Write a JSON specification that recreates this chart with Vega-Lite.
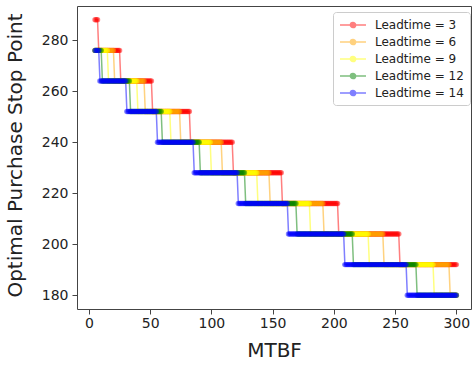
{
"$schema":"https://vega.github.io/schema/vega-lite/v6.json",
"width":394,"height":303,
"autosize":{"type":"none"},
"padding":{"left":77,"top":6,"right":3,"bottom":56},
"background":"white",
"config":{"view":{"stroke":"#444","strokeWidth":1},"font":"DejaVu Sans"},
"data":{"values":[
{"x":5,"a":288,"b":276,"c":276,"d":276,"e":276},
{"x":6,"a":288,"b":276,"c":276,"d":276,"e":276},
{"x":7,"a":288,"b":276,"c":276,"d":276,"e":276},
{"x":8,"a":276,"b":276,"c":276,"d":276,"e":276},
{"x":9,"a":276,"b":276,"c":276,"d":276,"e":264},
{"x":10,"a":276,"b":276,"c":276,"d":276,"e":264},
{"x":11,"a":276,"b":276,"c":276,"d":264,"e":264},
{"x":12,"a":276,"b":276,"c":276,"d":264,"e":264},
{"x":13,"a":276,"b":276,"c":276,"d":264,"e":264},
{"x":14,"a":276,"b":276,"c":276,"d":264,"e":264},
{"x":15,"a":276,"b":276,"c":276,"d":264,"e":264},
{"x":16,"a":276,"b":276,"c":264,"d":264,"e":264},
{"x":17,"a":276,"b":276,"c":264,"d":264,"e":264},
{"x":18,"a":276,"b":276,"c":264,"d":264,"e":264},
{"x":19,"a":276,"b":276,"c":264,"d":264,"e":264},
{"x":20,"a":276,"b":276,"c":264,"d":264,"e":264},
{"x":21,"a":276,"b":264,"c":264,"d":264,"e":264},
{"x":22,"a":276,"b":264,"c":264,"d":264,"e":264},
{"x":23,"a":276,"b":264,"c":264,"d":264,"e":264},
{"x":24,"a":276,"b":264,"c":264,"d":264,"e":264},
{"x":25,"a":276,"b":264,"c":264,"d":264,"e":264},
{"x":26,"a":264,"b":264,"c":264,"d":264,"e":264},
{"x":27,"a":264,"b":264,"c":264,"d":264,"e":264},
{"x":28,"a":264,"b":264,"c":264,"d":264,"e":264},
{"x":29,"a":264,"b":264,"c":264,"d":264,"e":264},
{"x":30,"a":264,"b":264,"c":264,"d":264,"e":264},
{"x":31,"a":264,"b":264,"c":264,"d":264,"e":252},
{"x":32,"a":264,"b":264,"c":264,"d":264,"e":252},
{"x":33,"a":264,"b":264,"c":264,"d":264,"e":252},
{"x":34,"a":264,"b":264,"c":264,"d":252,"e":252},
{"x":35,"a":264,"b":264,"c":264,"d":252,"e":252},
{"x":36,"a":264,"b":264,"c":264,"d":252,"e":252},
{"x":37,"a":264,"b":264,"c":264,"d":252,"e":252},
{"x":38,"a":264,"b":264,"c":264,"d":252,"e":252},
{"x":39,"a":264,"b":264,"c":264,"d":252,"e":252},
{"x":40,"a":264,"b":264,"c":252,"d":252,"e":252},
{"x":41,"a":264,"b":264,"c":252,"d":252,"e":252},
{"x":42,"a":264,"b":264,"c":252,"d":252,"e":252},
{"x":43,"a":264,"b":264,"c":252,"d":252,"e":252},
{"x":44,"a":264,"b":264,"c":252,"d":252,"e":252},
{"x":45,"a":264,"b":264,"c":252,"d":252,"e":252},
{"x":46,"a":264,"b":252,"c":252,"d":252,"e":252},
{"x":47,"a":264,"b":252,"c":252,"d":252,"e":252},
{"x":48,"a":264,"b":252,"c":252,"d":252,"e":252},
{"x":49,"a":264,"b":252,"c":252,"d":252,"e":252},
{"x":50,"a":264,"b":252,"c":252,"d":252,"e":252},
{"x":51,"a":264,"b":252,"c":252,"d":252,"e":252},
{"x":52,"a":252,"b":252,"c":252,"d":252,"e":252},
{"x":53,"a":252,"b":252,"c":252,"d":252,"e":252},
{"x":54,"a":252,"b":252,"c":252,"d":252,"e":252},
{"x":55,"a":252,"b":252,"c":252,"d":252,"e":252},
{"x":56,"a":252,"b":252,"c":252,"d":252,"e":240},
{"x":57,"a":252,"b":252,"c":252,"d":252,"e":240},
{"x":58,"a":252,"b":252,"c":252,"d":252,"e":240},
{"x":59,"a":252,"b":252,"c":252,"d":252,"e":240},
{"x":60,"a":252,"b":252,"c":252,"d":240,"e":240},
{"x":61,"a":252,"b":252,"c":252,"d":240,"e":240},
{"x":62,"a":252,"b":252,"c":252,"d":240,"e":240},
{"x":63,"a":252,"b":252,"c":252,"d":240,"e":240},
{"x":64,"a":252,"b":252,"c":252,"d":240,"e":240},
{"x":65,"a":252,"b":252,"c":252,"d":240,"e":240},
{"x":66,"a":252,"b":252,"c":252,"d":240,"e":240},
{"x":67,"a":252,"b":252,"c":240,"d":240,"e":240},
{"x":68,"a":252,"b":252,"c":240,"d":240,"e":240},
{"x":69,"a":252,"b":252,"c":240,"d":240,"e":240},
{"x":70,"a":252,"b":252,"c":240,"d":240,"e":240},
{"x":71,"a":252,"b":252,"c":240,"d":240,"e":240},
{"x":72,"a":252,"b":252,"c":240,"d":240,"e":240},
{"x":73,"a":252,"b":252,"c":240,"d":240,"e":240},
{"x":74,"a":252,"b":252,"c":240,"d":240,"e":240},
{"x":75,"a":252,"b":240,"c":240,"d":240,"e":240},
{"x":76,"a":252,"b":240,"c":240,"d":240,"e":240},
{"x":77,"a":252,"b":240,"c":240,"d":240,"e":240},
{"x":78,"a":252,"b":240,"c":240,"d":240,"e":240},
{"x":79,"a":252,"b":240,"c":240,"d":240,"e":240},
{"x":80,"a":252,"b":240,"c":240,"d":240,"e":240},
{"x":81,"a":252,"b":240,"c":240,"d":240,"e":240},
{"x":82,"a":252,"b":240,"c":240,"d":240,"e":240},
{"x":83,"a":240,"b":240,"c":240,"d":240,"e":240},
{"x":84,"a":240,"b":240,"c":240,"d":240,"e":240},
{"x":85,"a":240,"b":240,"c":240,"d":240,"e":240},
{"x":86,"a":240,"b":240,"c":240,"d":240,"e":228},
{"x":87,"a":240,"b":240,"c":240,"d":240,"e":228},
{"x":88,"a":240,"b":240,"c":240,"d":240,"e":228},
{"x":89,"a":240,"b":240,"c":240,"d":240,"e":228},
{"x":90,"a":240,"b":240,"c":240,"d":240,"e":228},
{"x":91,"a":240,"b":240,"c":240,"d":228,"e":228},
{"x":92,"a":240,"b":240,"c":240,"d":228,"e":228},
{"x":93,"a":240,"b":240,"c":240,"d":228,"e":228},
{"x":94,"a":240,"b":240,"c":240,"d":228,"e":228},
{"x":95,"a":240,"b":240,"c":240,"d":228,"e":228},
{"x":96,"a":240,"b":240,"c":240,"d":228,"e":228},
{"x":97,"a":240,"b":240,"c":240,"d":228,"e":228},
{"x":98,"a":240,"b":240,"c":240,"d":228,"e":228},
{"x":99,"a":240,"b":240,"c":240,"d":228,"e":228},
{"x":100,"a":240,"b":240,"c":228,"d":228,"e":228},
{"x":101,"a":240,"b":240,"c":228,"d":228,"e":228},
{"x":102,"a":240,"b":240,"c":228,"d":228,"e":228},
{"x":103,"a":240,"b":240,"c":228,"d":228,"e":228},
{"x":104,"a":240,"b":240,"c":228,"d":228,"e":228},
{"x":105,"a":240,"b":240,"c":228,"d":228,"e":228},
{"x":106,"a":240,"b":240,"c":228,"d":228,"e":228},
{"x":107,"a":240,"b":240,"c":228,"d":228,"e":228},
{"x":108,"a":240,"b":240,"c":228,"d":228,"e":228},
{"x":109,"a":240,"b":228,"c":228,"d":228,"e":228},
{"x":110,"a":240,"b":228,"c":228,"d":228,"e":228},
{"x":111,"a":240,"b":228,"c":228,"d":228,"e":228},
{"x":112,"a":240,"b":228,"c":228,"d":228,"e":228},
{"x":113,"a":240,"b":228,"c":228,"d":228,"e":228},
{"x":114,"a":240,"b":228,"c":228,"d":228,"e":228},
{"x":115,"a":240,"b":228,"c":228,"d":228,"e":228},
{"x":116,"a":240,"b":228,"c":228,"d":228,"e":228},
{"x":117,"a":240,"b":228,"c":228,"d":228,"e":228},
{"x":118,"a":228,"b":228,"c":228,"d":228,"e":228},
{"x":119,"a":228,"b":228,"c":228,"d":228,"e":228},
{"x":120,"a":228,"b":228,"c":228,"d":228,"e":228},
{"x":121,"a":228,"b":228,"c":228,"d":228,"e":228},
{"x":122,"a":228,"b":228,"c":228,"d":228,"e":216},
{"x":123,"a":228,"b":228,"c":228,"d":228,"e":216},
{"x":124,"a":228,"b":228,"c":228,"d":228,"e":216},
{"x":125,"a":228,"b":228,"c":228,"d":228,"e":216},
{"x":126,"a":228,"b":228,"c":228,"d":228,"e":216},
{"x":127,"a":228,"b":228,"c":228,"d":228,"e":216},
{"x":128,"a":228,"b":228,"c":228,"d":216,"e":216},
{"x":129,"a":228,"b":228,"c":228,"d":216,"e":216},
{"x":130,"a":228,"b":228,"c":228,"d":216,"e":216},
{"x":131,"a":228,"b":228,"c":228,"d":216,"e":216},
{"x":132,"a":228,"b":228,"c":228,"d":216,"e":216},
{"x":133,"a":228,"b":228,"c":228,"d":216,"e":216},
{"x":134,"a":228,"b":228,"c":228,"d":216,"e":216},
{"x":135,"a":228,"b":228,"c":228,"d":216,"e":216},
{"x":136,"a":228,"b":228,"c":228,"d":216,"e":216},
{"x":137,"a":228,"b":228,"c":228,"d":216,"e":216},
{"x":138,"a":228,"b":228,"c":216,"d":216,"e":216},
{"x":139,"a":228,"b":228,"c":216,"d":216,"e":216},
{"x":140,"a":228,"b":228,"c":216,"d":216,"e":216},
{"x":141,"a":228,"b":228,"c":216,"d":216,"e":216},
{"x":142,"a":228,"b":228,"c":216,"d":216,"e":216},
{"x":143,"a":228,"b":228,"c":216,"d":216,"e":216},
{"x":144,"a":228,"b":228,"c":216,"d":216,"e":216},
{"x":145,"a":228,"b":228,"c":216,"d":216,"e":216},
{"x":146,"a":228,"b":228,"c":216,"d":216,"e":216},
{"x":147,"a":228,"b":228,"c":216,"d":216,"e":216},
{"x":148,"a":228,"b":216,"c":216,"d":216,"e":216},
{"x":149,"a":228,"b":216,"c":216,"d":216,"e":216},
{"x":150,"a":228,"b":216,"c":216,"d":216,"e":216},
{"x":151,"a":228,"b":216,"c":216,"d":216,"e":216},
{"x":152,"a":228,"b":216,"c":216,"d":216,"e":216},
{"x":153,"a":228,"b":216,"c":216,"d":216,"e":216},
{"x":154,"a":228,"b":216,"c":216,"d":216,"e":216},
{"x":155,"a":228,"b":216,"c":216,"d":216,"e":216},
{"x":156,"a":228,"b":216,"c":216,"d":216,"e":216},
{"x":157,"a":228,"b":216,"c":216,"d":216,"e":216},
{"x":158,"a":216,"b":216,"c":216,"d":216,"e":216},
{"x":159,"a":216,"b":216,"c":216,"d":216,"e":216},
{"x":160,"a":216,"b":216,"c":216,"d":216,"e":216},
{"x":161,"a":216,"b":216,"c":216,"d":216,"e":216},
{"x":162,"a":216,"b":216,"c":216,"d":216,"e":216},
{"x":163,"a":216,"b":216,"c":216,"d":216,"e":204},
{"x":164,"a":216,"b":216,"c":216,"d":216,"e":204},
{"x":165,"a":216,"b":216,"c":216,"d":216,"e":204},
{"x":166,"a":216,"b":216,"c":216,"d":216,"e":204},
{"x":167,"a":216,"b":216,"c":216,"d":216,"e":204},
{"x":168,"a":216,"b":216,"c":216,"d":216,"e":204},
{"x":169,"a":216,"b":216,"c":216,"d":216,"e":204},
{"x":170,"a":216,"b":216,"c":216,"d":204,"e":204},
{"x":171,"a":216,"b":216,"c":216,"d":204,"e":204},
{"x":172,"a":216,"b":216,"c":216,"d":204,"e":204},
{"x":173,"a":216,"b":216,"c":216,"d":204,"e":204},
{"x":174,"a":216,"b":216,"c":216,"d":204,"e":204},
{"x":175,"a":216,"b":216,"c":216,"d":204,"e":204},
{"x":176,"a":216,"b":216,"c":216,"d":204,"e":204},
{"x":177,"a":216,"b":216,"c":216,"d":204,"e":204},
{"x":178,"a":216,"b":216,"c":216,"d":204,"e":204},
{"x":179,"a":216,"b":216,"c":216,"d":204,"e":204},
{"x":180,"a":216,"b":216,"c":216,"d":204,"e":204},
{"x":181,"a":216,"b":216,"c":204,"d":204,"e":204},
{"x":182,"a":216,"b":216,"c":204,"d":204,"e":204},
{"x":183,"a":216,"b":216,"c":204,"d":204,"e":204},
{"x":184,"a":216,"b":216,"c":204,"d":204,"e":204},
{"x":185,"a":216,"b":216,"c":204,"d":204,"e":204},
{"x":186,"a":216,"b":216,"c":204,"d":204,"e":204},
{"x":187,"a":216,"b":216,"c":204,"d":204,"e":204},
{"x":188,"a":216,"b":216,"c":204,"d":204,"e":204},
{"x":189,"a":216,"b":216,"c":204,"d":204,"e":204},
{"x":190,"a":216,"b":216,"c":204,"d":204,"e":204},
{"x":191,"a":216,"b":216,"c":204,"d":204,"e":204},
{"x":192,"a":216,"b":204,"c":204,"d":204,"e":204},
{"x":193,"a":216,"b":204,"c":204,"d":204,"e":204},
{"x":194,"a":216,"b":204,"c":204,"d":204,"e":204},
{"x":195,"a":216,"b":204,"c":204,"d":204,"e":204},
{"x":196,"a":216,"b":204,"c":204,"d":204,"e":204},
{"x":197,"a":216,"b":204,"c":204,"d":204,"e":204},
{"x":198,"a":216,"b":204,"c":204,"d":204,"e":204},
{"x":199,"a":216,"b":204,"c":204,"d":204,"e":204},
{"x":200,"a":216,"b":204,"c":204,"d":204,"e":204},
{"x":201,"a":216,"b":204,"c":204,"d":204,"e":204},
{"x":202,"a":216,"b":204,"c":204,"d":204,"e":204},
{"x":203,"a":216,"b":204,"c":204,"d":204,"e":204},
{"x":204,"a":204,"b":204,"c":204,"d":204,"e":204},
{"x":205,"a":204,"b":204,"c":204,"d":204,"e":204},
{"x":206,"a":204,"b":204,"c":204,"d":204,"e":204},
{"x":207,"a":204,"b":204,"c":204,"d":204,"e":204},
{"x":208,"a":204,"b":204,"c":204,"d":204,"e":204},
{"x":209,"a":204,"b":204,"c":204,"d":204,"e":192},
{"x":210,"a":204,"b":204,"c":204,"d":204,"e":192},
{"x":211,"a":204,"b":204,"c":204,"d":204,"e":192},
{"x":212,"a":204,"b":204,"c":204,"d":204,"e":192},
{"x":213,"a":204,"b":204,"c":204,"d":204,"e":192},
{"x":214,"a":204,"b":204,"c":204,"d":204,"e":192},
{"x":215,"a":204,"b":204,"c":204,"d":204,"e":192},
{"x":216,"a":204,"b":204,"c":204,"d":192,"e":192},
{"x":217,"a":204,"b":204,"c":204,"d":192,"e":192},
{"x":218,"a":204,"b":204,"c":204,"d":192,"e":192},
{"x":219,"a":204,"b":204,"c":204,"d":192,"e":192},
{"x":220,"a":204,"b":204,"c":204,"d":192,"e":192},
{"x":221,"a":204,"b":204,"c":204,"d":192,"e":192},
{"x":222,"a":204,"b":204,"c":204,"d":192,"e":192},
{"x":223,"a":204,"b":204,"c":204,"d":192,"e":192},
{"x":224,"a":204,"b":204,"c":204,"d":192,"e":192},
{"x":225,"a":204,"b":204,"c":204,"d":192,"e":192},
{"x":226,"a":204,"b":204,"c":204,"d":192,"e":192},
{"x":227,"a":204,"b":204,"c":204,"d":192,"e":192},
{"x":228,"a":204,"b":204,"c":204,"d":192,"e":192},
{"x":229,"a":204,"b":204,"c":192,"d":192,"e":192},
{"x":230,"a":204,"b":204,"c":192,"d":192,"e":192},
{"x":231,"a":204,"b":204,"c":192,"d":192,"e":192},
{"x":232,"a":204,"b":204,"c":192,"d":192,"e":192},
{"x":233,"a":204,"b":204,"c":192,"d":192,"e":192},
{"x":234,"a":204,"b":204,"c":192,"d":192,"e":192},
{"x":235,"a":204,"b":204,"c":192,"d":192,"e":192},
{"x":236,"a":204,"b":204,"c":192,"d":192,"e":192},
{"x":237,"a":204,"b":204,"c":192,"d":192,"e":192},
{"x":238,"a":204,"b":204,"c":192,"d":192,"e":192},
{"x":239,"a":204,"b":204,"c":192,"d":192,"e":192},
{"x":240,"a":204,"b":204,"c":192,"d":192,"e":192},
{"x":241,"a":204,"b":192,"c":192,"d":192,"e":192},
{"x":242,"a":204,"b":192,"c":192,"d":192,"e":192},
{"x":243,"a":204,"b":192,"c":192,"d":192,"e":192},
{"x":244,"a":204,"b":192,"c":192,"d":192,"e":192},
{"x":245,"a":204,"b":192,"c":192,"d":192,"e":192},
{"x":246,"a":204,"b":192,"c":192,"d":192,"e":192},
{"x":247,"a":204,"b":192,"c":192,"d":192,"e":192},
{"x":248,"a":204,"b":192,"c":192,"d":192,"e":192},
{"x":249,"a":204,"b":192,"c":192,"d":192,"e":192},
{"x":250,"a":204,"b":192,"c":192,"d":192,"e":192},
{"x":251,"a":204,"b":192,"c":192,"d":192,"e":192},
{"x":252,"a":204,"b":192,"c":192,"d":192,"e":192},
{"x":253,"a":204,"b":192,"c":192,"d":192,"e":192},
{"x":254,"a":192,"b":192,"c":192,"d":192,"e":192},
{"x":255,"a":192,"b":192,"c":192,"d":192,"e":192},
{"x":256,"a":192,"b":192,"c":192,"d":192,"e":192},
{"x":257,"a":192,"b":192,"c":192,"d":192,"e":192},
{"x":258,"a":192,"b":192,"c":192,"d":192,"e":192},
{"x":259,"a":192,"b":192,"c":192,"d":192,"e":192},
{"x":260,"a":192,"b":192,"c":192,"d":192,"e":180},
{"x":261,"a":192,"b":192,"c":192,"d":192,"e":180},
{"x":262,"a":192,"b":192,"c":192,"d":192,"e":180},
{"x":263,"a":192,"b":192,"c":192,"d":192,"e":180},
{"x":264,"a":192,"b":192,"c":192,"d":192,"e":180},
{"x":265,"a":192,"b":192,"c":192,"d":192,"e":180},
{"x":266,"a":192,"b":192,"c":192,"d":192,"e":180},
{"x":267,"a":192,"b":192,"c":192,"d":192,"e":180},
{"x":268,"a":192,"b":192,"c":192,"d":180,"e":180},
{"x":269,"a":192,"b":192,"c":192,"d":180,"e":180},
{"x":270,"a":192,"b":192,"c":192,"d":180,"e":180},
{"x":271,"a":192,"b":192,"c":192,"d":180,"e":180},
{"x":272,"a":192,"b":192,"c":192,"d":180,"e":180},
{"x":273,"a":192,"b":192,"c":192,"d":180,"e":180},
{"x":274,"a":192,"b":192,"c":192,"d":180,"e":180},
{"x":275,"a":192,"b":192,"c":192,"d":180,"e":180},
{"x":276,"a":192,"b":192,"c":192,"d":180,"e":180},
{"x":277,"a":192,"b":192,"c":192,"d":180,"e":180},
{"x":278,"a":192,"b":192,"c":192,"d":180,"e":180},
{"x":279,"a":192,"b":192,"c":192,"d":180,"e":180},
{"x":280,"a":192,"b":192,"c":192,"d":180,"e":180},
{"x":281,"a":192,"b":192,"c":192,"d":180,"e":180},
{"x":282,"a":192,"b":192,"c":180,"d":180,"e":180},
{"x":283,"a":192,"b":192,"c":180,"d":180,"e":180},
{"x":284,"a":192,"b":192,"c":180,"d":180,"e":180},
{"x":285,"a":192,"b":192,"c":180,"d":180,"e":180},
{"x":286,"a":192,"b":192,"c":180,"d":180,"e":180},
{"x":287,"a":192,"b":192,"c":180,"d":180,"e":180},
{"x":288,"a":192,"b":192,"c":180,"d":180,"e":180},
{"x":289,"a":192,"b":192,"c":180,"d":180,"e":180},
{"x":290,"a":192,"b":192,"c":180,"d":180,"e":180},
{"x":291,"a":192,"b":192,"c":180,"d":180,"e":180},
{"x":292,"a":192,"b":192,"c":180,"d":180,"e":180},
{"x":293,"a":192,"b":192,"c":180,"d":180,"e":180},
{"x":294,"a":192,"b":192,"c":180,"d":180,"e":180},
{"x":295,"a":192,"b":180,"c":180,"d":180,"e":180},
{"x":296,"a":192,"b":180,"c":180,"d":180,"e":180},
{"x":297,"a":192,"b":180,"c":180,"d":180,"e":180},
{"x":298,"a":192,"b":180,"c":180,"d":180,"e":180},
{"x":299,"a":192,"b":180,"c":180,"d":180,"e":180},
{"x":300,"a":192,"b":180,"c":180,"d":180,"e":180}
]},
"transform":[{"fold":["a","b","c","d","e"],"as":["lead","stop"]}],
"encoding":{
"x":{"field":"x","type":"quantitative","scale":{"domain":[-9.75,312],"nice":false,"zero":false},
"axis":{"title":"MTBF","values":[0,50,100,150,200,250,300],"grid":false,"domain":false,"tickSize":5,"tickColor":"#444","labelFontSize":14,"labelColor":"#222","labelPadding":2,"labelFlush":false,"titleFontSize":20,"titleFontWeight":"normal","titleColor":"#222","titleY":47,"titleBaseline":"alphabetic"}},
"y":{"field":"stop","type":"quantitative","scale":{"domain":[174.6,293.4],"nice":false,"zero":false},
"axis":{"title":"Optimal Purchase Stop Point","values":[180,200,220,240,260,280],"grid":false,"domain":false,"tickSize":5,"tickColor":"#444","labelFontSize":14,"labelColor":"#222","labelPadding":4,"titleFontSize":20,"titleFontWeight":"normal","titleColor":"#222","titleAngle":-90,"titleX":-56,"titleY":149,"titleAlign":"center","titleBaseline":"alphabetic"}},
"color":{"field":"lead","type":"nominal","scale":{"domain":["a","b","c","d","e"],"range":["#ff0000","#ffa500","#ffff00","#008000","#0000ff"]},
"legend":{"orient":"none","legendX":256,"legendY":6,"title":null,
"labelExpr":"datum.label == 'a' ? 'Leadtime = 3' : datum.label == 'b' ? 'Leadtime = 6' : datum.label == 'c' ? 'Leadtime = 9' : datum.label == 'd' ? 'Leadtime = 12' : 'Leadtime = 14'",
"symbolType":"M-1,0H3.333M0.733,0A0.433,0.433 0 1,0 1.6,0A0.433,0.433 0 1,0 0.733,0",
"symbolSize":144,"symbolStrokeWidth":1.5,"symbolOpacity":0.5,
"labelFontSize":12,"labelFont":"DejaVu Sans","labelColor":"#222","labelOffset":22,
"padding":6,"rowPadding":4,"strokeColor":"#ccc","fillColor":"white","cornerRadius":3,
"encode":{"symbols":{"update":{"fill":{"scale":"color","field":"value"},"stroke":{"scale":"color","field":"value"}}}}}}
},
"layer":[
{"mark":{"type":"line","strokeWidth":1.5,"opacity":0.5}},
{"mark":{"type":"circle","size":30,"opacity":0.5},"encoding":{"order":{"field":"lead","type":"ordinal"}}}
]
}
